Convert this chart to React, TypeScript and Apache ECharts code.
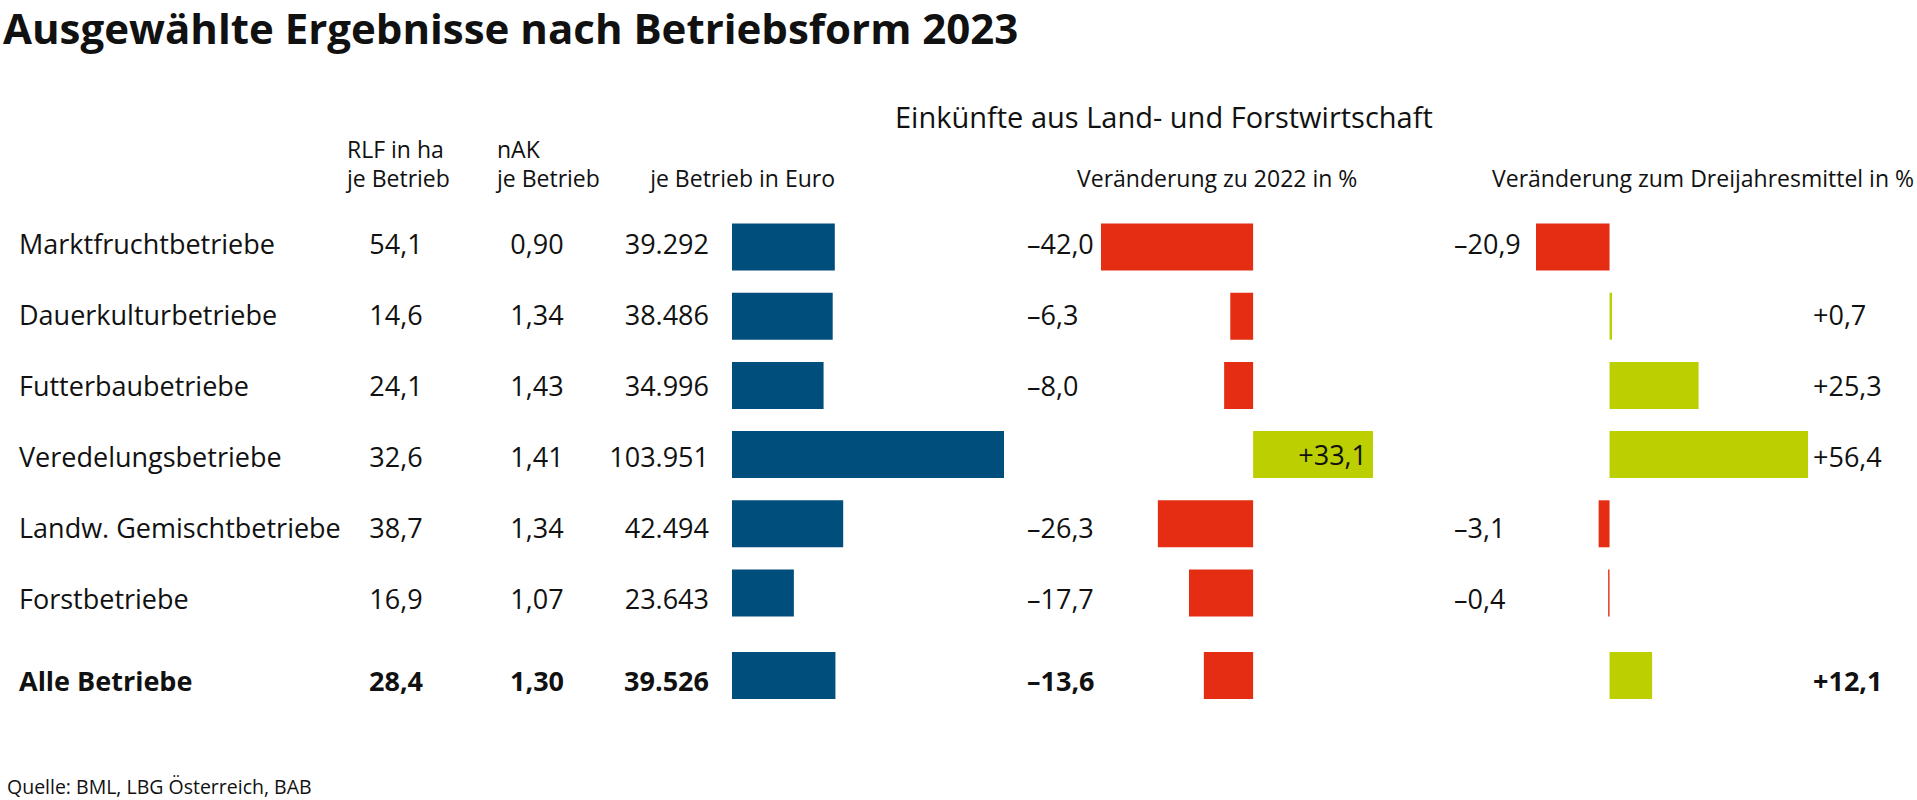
import React, { useEffect, useRef } from "react";
import * as echarts from "echarts";

const categories = [
  "Marktfruchtbetriebe",
  "Dauerkulturbetriebe",
  "Futterbaubetriebe",
  "Veredelungsbetriebe",
  "Landw. Gemischtbetriebe",
  "Forstbetriebe",
];
const totalCategory = ["Alle Betriebe"];

const rlf = [54.1, 14.6, 24.1, 32.6, 38.7, 16.9];
const rlfTotal = [28.4];
const nak = [0.9, 1.34, 1.43, 1.41, 1.34, 1.07];
const nakTotal = [1.3];
const euro = [39292, 38486, 34996, 103951, 42494, 23643];
const euroTotal = [39526];
const chg2022 = [-42.0, -6.3, -8.0, 33.1, -26.3, -17.7];
const chg2022Total = [-13.6];
const chg3y = [-20.9, 0.7, 25.3, 56.4, -3.1, -0.4];
const chg3yTotal = [12.1];

const title = "Ausgewählte Ergebnisse nach Betriebsform 2023";
const source = "Quelle: BML, LBG Österreich, BAB";

const FONT = "'Open Sans', 'Noto Sans', sans-serif";
const BLUE = "#004e7c";
const RED = "#e42d12";
const GREEN = "#bccf00";
const TXT = "#111111";

const dec = (v: number, d: number) => v.toFixed(d).replace(".", ",");
const signed = (v: number) => (v < 0 ? "–" : "+") + dec(Math.abs(v), 1);
const thousands = (v: number) =>
  String(v).replace(/\B(?=(\d{3})+(?!\d))/g, ".");

export default function App() {
  const ref = useRef<HTMLDivElement>(null);

  useEffect(() => {
    document.body.style.margin = "0";
    const chart = echarts.init(ref.current!, null, { renderer: "svg" });

    const BAR = 47;
    const ROWFS = 27;
    const W = 272;
    const L1 = 732;
    const L2 = 1101;
    const L3 = 1536;

    // bar rows
    const mainTop = 212.4;
    const mainH = 415.2;
    const totTop = 652;
    const totH = 47;
    // text rows
    const tMainTop = 207.5;
    const tMainH = 426;
    const tTotTop = 656.5;
    const tTotH = 47;

    const euroMax = Math.max(...euro, ...euroTotal);
    const c2Min = Math.min(...chg2022, ...chg2022Total);
    const c2Max = Math.max(...chg2022, ...chg2022Total);
    const c3Min = Math.min(...chg3y, ...chg3yTotal);
    const c3Max = Math.max(...chg3y, ...chg3yTotal);

    const grids = [
      // bar grids 0-5
      { left: L1, top: mainTop, width: W, height: mainH },
      { left: L1, top: totTop, width: W, height: totH },
      { left: L2, top: mainTop, width: W, height: mainH },
      { left: L2, top: totTop, width: W, height: totH },
      { left: L3, top: mainTop, width: W, height: mainH },
      { left: L3, top: totTop, width: W, height: totH },
      // text grids 6-11
      { left: L1, top: tMainTop, width: W, height: tMainH },
      { left: L1, top: tTotTop, width: W, height: tTotH },
      { left: L2, top: tMainTop, width: W, height: tMainH },
      { left: L2, top: tTotTop, width: W, height: tTotH },
      { left: L3, top: tMainTop, width: W, height: tMainH },
      { left: L3, top: tTotTop, width: W, height: tTotH },
    ];

    const xRanges = [
      [0, euroMax],
      [0, euroMax],
      [c2Min, c2Max],
      [c2Min, c2Max],
      [c3Min, c3Max],
      [c3Min, c3Max],
    ];
    const xAxis = [...xRanges, ...xRanges].map((r, i) => ({
      type: "value",
      gridIndex: i,
      min: r[0],
      max: r[1],
      show: false,
    }));

    const yBase = (gridIndex: number, data: string[]) => ({
      type: "category",
      gridIndex,
      data,
      inverse: true,
      axisLine: { show: false },
      axisTick: { show: false },
      splitLine: { show: false },
    });
    const lbl = (
      align: string,
      margin: number,
      formatter: (v: string, i: number) => string,
      bold: boolean
    ) => ({
      show: true,
      interval: 0,
      align,
      margin,
      formatter,
      fontFamily: FONT,
      fontSize: ROWFS,
      fontWeight: bold ? "bold" : "normal",
      color: TXT,
    });
    const hidden = (g: number, cats: string[]) => ({
      ...yBase(g, cats),
      axisLabel: { show: false },
    });

    const tableAxes = (g: number, cats: string[], r: number[], n: number[], e: number[], bold: boolean) => [
      { ...yBase(g, cats), position: "left", axisLabel: lbl("left", L1 - 19, (v) => v, bold) },
      { ...yBase(g, cats), position: "left", axisLabel: lbl("center", L1 - 396, (_v, i) => dec(r[i], 1), bold) },
      { ...yBase(g, cats), position: "left", axisLabel: lbl("center", L1 - 537, (_v, i) => dec(n[i], 2), bold) },
      { ...yBase(g, cats), position: "left", axisLabel: lbl("right", L1 - 709, (_v, i) => thousands(e[i]), bold) },
    ];
    const negAxis = (g: number, cats: string[], vals: number[], margin: number, bold: boolean) => ({
      ...yBase(g, cats),
      position: "left",
      axisLabel: lbl("left", margin, (_v, i) => (vals[i] < 0 ? signed(vals[i]) : ""), bold),
    });
    const posAxis = (g: number, cats: string[], vals: number[], bold: boolean) => ({
      ...yBase(g, cats),
      position: "right",
      axisLabel: lbl("left", 5, (_v, i) => (vals[i] > 0 ? signed(vals[i]) : ""), bold),
    });

    const yAxis: any[] = [
      // 0-5: bar axes
      hidden(0, categories),
      hidden(1, totalCategory),
      hidden(2, categories),
      hidden(3, totalCategory),
      hidden(4, categories),
      hidden(5, totalCategory),
      // text axes
      ...tableAxes(6, categories, rlf, nak, euro, false),
      ...tableAxes(7, totalCategory, rlfTotal, nakTotal, euroTotal, true),
      negAxis(8, categories, chg2022, L2 - 1027, false),
      negAxis(9, totalCategory, chg2022Total, L2 - 1027, true),
      negAxis(10, categories, chg3y, L3 - 1454, false),
      posAxis(10, categories, chg3y, false),
      negAxis(11, totalCategory, chg3yTotal, L3 - 1454, true),
      posAxis(11, totalCategory, chg3yTotal, true),
    ];

    const signColor = (p: any) => (p.value < 0 ? RED : GREEN);

    const series: any[] = [
      { type: "bar", xAxisIndex: 0, yAxisIndex: 0, data: euro, barWidth: BAR, itemStyle: { color: BLUE } },
      { type: "bar", xAxisIndex: 1, yAxisIndex: 1, data: euroTotal, barWidth: BAR, itemStyle: { color: BLUE } },
      {
        type: "bar",
        xAxisIndex: 2,
        yAxisIndex: 2,
        data: chg2022,
        barWidth: BAR,
        itemStyle: { color: signColor },
        label: {
          show: true,
          position: "insideRight",
          distance: 6,
          formatter: (p: any) => (p.value > 0 ? signed(p.value) : ""),
          fontFamily: FONT,
          fontSize: ROWFS,
          color: TXT,
        },
      },
      { type: "bar", xAxisIndex: 3, yAxisIndex: 3, data: chg2022Total, barWidth: BAR, itemStyle: { color: signColor } },
      { type: "bar", xAxisIndex: 4, yAxisIndex: 4, data: chg3y, barWidth: BAR, itemStyle: { color: signColor } },
      { type: "bar", xAxisIndex: 5, yAxisIndex: 5, data: chg3yTotal, barWidth: BAR, itemStyle: { color: signColor } },
    ];

    const txt = (text: string, x: number, y: number, size: number, weight = "normal", align = "left") => ({
      type: "text",
      x,
      y,
      style: {
        text,
        fontFamily: FONT,
        fontSize: size,
        fontWeight: weight,
        fill: TXT,
        align,
        verticalAlign: "middle",
      },
    });

    const graphic = [
      txt(title, 3, 27, 42, "bold"),
      txt("Einkünfte aus Land- und Forstwirtschaft", 895, 116, 29),
      txt("RLF in ha", 347, 149, 23),
      txt("je Betrieb", 347, 178, 23),
      txt("nAK", 497, 149, 23),
      txt("je Betrieb", 497, 178, 23),
      txt("je Betrieb in Euro", 835, 178, 23, "normal", "right"),
      txt("Veränderung zu 2022 in %", 1077, 178, 23),
      txt("Veränderung zum Dreijahresmittel in %", 1914, 178, 23, "normal", "right"),
      txt(source, 7, 786, 19.5),
    ];

    chart.setOption({
      animation: false,
      backgroundColor: "#ffffff",
      grid: grids,
      xAxis,
      yAxis,
      series,
      graphic,
    });

    return () => chart.dispose();
  }, []);

  return <div ref={ref} style={{ width: 1917, height: 800 }} />;
}
